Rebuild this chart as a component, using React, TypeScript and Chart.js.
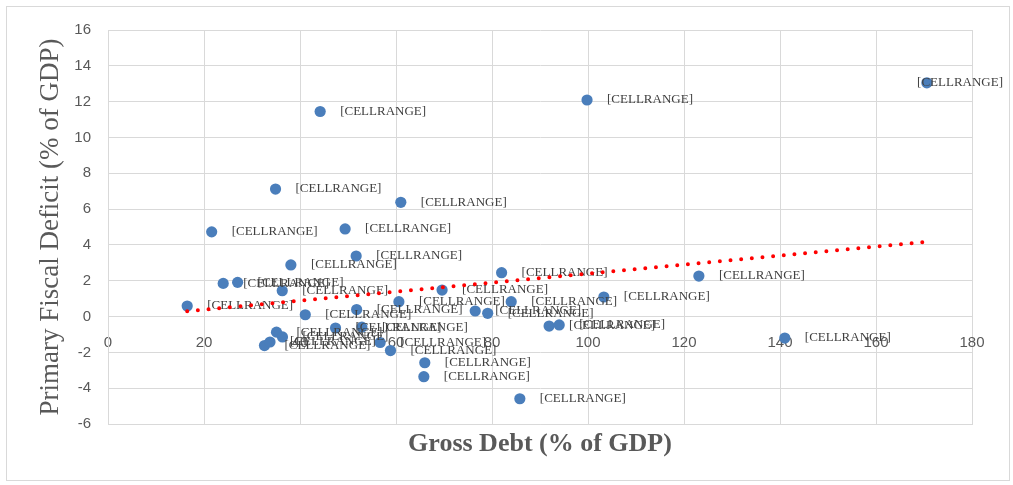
import React, { useEffect, useRef } from 'react';
import { Chart, registerables } from 'chart.js';

Chart.register(...registerables);

// Gross debt (% of GDP) for each economy
const grossDebt = [
  170.6, 99.8, 44.2, 34.9, 61.0, 21.6, 49.4, 51.7, 38.1, 82.0,
  123.1, 24.0, 27.0, 36.3, 69.6, 103.3, 16.5, 60.6, 84.0, 41.1,
  76.5, 79.1, 91.9, 94.0, 141.0, 66.0, 65.8, 85.8, 58.85, 32.6,
  33.75, 35.1, 36.35, 47.4, 51.8, 52.9, 56.7,
];
// Primary fiscal deficit (% of GDP) for each economy
const primaryDeficit = [
  13.05, 12.09, 11.45, 7.12, 6.38, 4.73, 4.89, 3.38, 2.88, 2.45,
  2.26, 1.85, 1.91, 1.44, 1.48, 1.09, 0.59, 0.83, 0.83, 0.1,
  0.31, 0.18, -0.53, -0.47, -1.2, -2.58, -3.36, -4.59, -1.9, -1.62,
  -1.42, -0.87, -1.14, -0.64, 0.39, -0.59, -1.45,
];
const pointLabelText = '[CELLRANGE]';

// Linear trendline end points (as drawn)
const trendDebt = [16.5, 170.6];
const trendDeficit = [0.29, 4.17];

const xMin = 0;
const xMax = 180;
const xStep = 20;
const yMin = -6;
const yMax = 16;
const yStep = 2;

const xTitle = 'Gross Debt (% of GDP)';
const yTitle = 'Primary Fiscal Deficit (% of GDP)';

const GRID = '#d9d9d9';
const TEXT = '#595959';

const labelPlugin = {
  id: 'cellLabels',
  afterDatasetDraw(chart: any, args: any) {
    if (args.index !== 1) return;
    const ctx = chart.ctx;
    const meta = chart.getDatasetMeta(1);
    ctx.save();
    ctx.font = '13px "Liberation Serif", "Times New Roman", serif';
    ctx.fillStyle = '#404040';
    ctx.textBaseline = 'middle';
    ctx.textAlign = 'left';
    const w = ctx.measureText(pointLabelText).width;
    const maxRight = chart.width - 10;
    meta.data.forEach((pt: any) => {
      let x = pt.x + 20;
      if (x + w > maxRight) x = maxRight - w;
      ctx.fillText(pointLabelText, x, pt.y);
    });
    ctx.restore();
  },
};

export default function App() {
  const canvasRef = useRef<HTMLCanvasElement | null>(null);

  useEffect(() => {
    document.body.style.margin = '0';
    const canvas = canvasRef.current;
    if (!canvas) return;
    const scatterData = grossDebt.map((x, i) => ({ x, y: primaryDeficit[i] }));
    const trendData = trendDebt.map((x, i) => ({ x, y: trendDeficit[i] }));
    const chart = new Chart(canvas, {
      type: 'scatter',
      data: {
        datasets: [
          {
            type: 'line',
            label: 'Linear trend',
            data: trendData,
            borderColor: '#ff0000',
            borderWidth: 4,
            borderDash: [0, 10.7],
            borderCapStyle: 'round',
            pointRadius: 0,
            fill: false,
            tension: 0,
          } as any,
          {
            label: 'Economies',
            data: scatterData,
            backgroundColor: '#4a7ebb',
            borderColor: '#4a7ebb',
            borderWidth: 0,
            pointRadius: 5.6,
            pointHoverRadius: 5.6,
          },
        ],
      },
      options: {
        animation: false,
        responsive: false,
        maintainAspectRatio: false,
        events: [],
        layout: { padding: { top: 30, right: 41, left: 0, bottom: 0 } },
        plugins: {
          legend: { display: false },
          tooltip: { enabled: false },
        },
        scales: {
          x: {
            type: 'linear',
            position: 'bottom',
            min: xMin,
            max: xMax,
            ticks: { stepSize: xStep, display: false },
            grid: { color: GRID, drawTicks: false, lineWidth: 1 },
            border: { display: true, color: GRID },
            title: {
              display: true,
              text: xTitle,
              color: TEXT,
              font: { family: '"Liberation Serif", "Times New Roman", serif', size: 26, weight: 'bold' },
              padding: { top: 0, bottom: 25 },
            },
            afterFit: (s: any) => {
              s.height = 61;
            },
          },
          x2: {
            type: 'linear',
            axis: 'x',
            position: { y: 0 },
            min: xMin,
            max: xMax,
            ticks: {
              stepSize: xStep,
              color: TEXT,
              padding: 17,
              font: { family: '"Liberation Sans", Arial, sans-serif', size: 15 },
              maxRotation: 0,
            },
            grid: { display: false, drawTicks: false },
            border: { display: false },
            afterFit: (s: any) => {
              s.height = 0;
            },
          },
          y: {
            type: 'linear',
            position: 'left',
            min: yMin,
            max: yMax,
            ticks: {
              stepSize: yStep,
              color: TEXT,
              padding: 17,
              font: { family: '"Liberation Sans", Arial, sans-serif', size: 15 },
            },
            grid: { color: GRID, drawTicks: false, lineWidth: 1 },
            border: { display: true, color: GRID },
            title: {
              display: true,
              text: yTitle,
              color: TEXT,
              font: { family: '"Liberation Serif", "Times New Roman", serif', size: 27 },
              padding: { top: 35, bottom: 0 },
            },
            afterFit: (s: any) => {
              s.width = 108;
            },
          },
        } as any,
      },
      plugins: [labelPlugin],
    });
    return () => chart.destroy();
  }, []);

  return (
    <div style={{ position: 'relative', width: 1013, height: 485, background: '#ffffff' }}>
      <canvas ref={canvasRef} width={1013} height={485} style={{ position: 'absolute', left: 0, top: 0, width: 1013, height: 485 }} />
      <div
        style={{
          position: 'absolute',
          left: 6,
          top: 6,
          width: 1004,
          height: 475,
          boxSizing: 'border-box',
          border: '1px solid #d9d9d9',
          pointerEvents: 'none',
        }}
      />
    </div>
  );
}
